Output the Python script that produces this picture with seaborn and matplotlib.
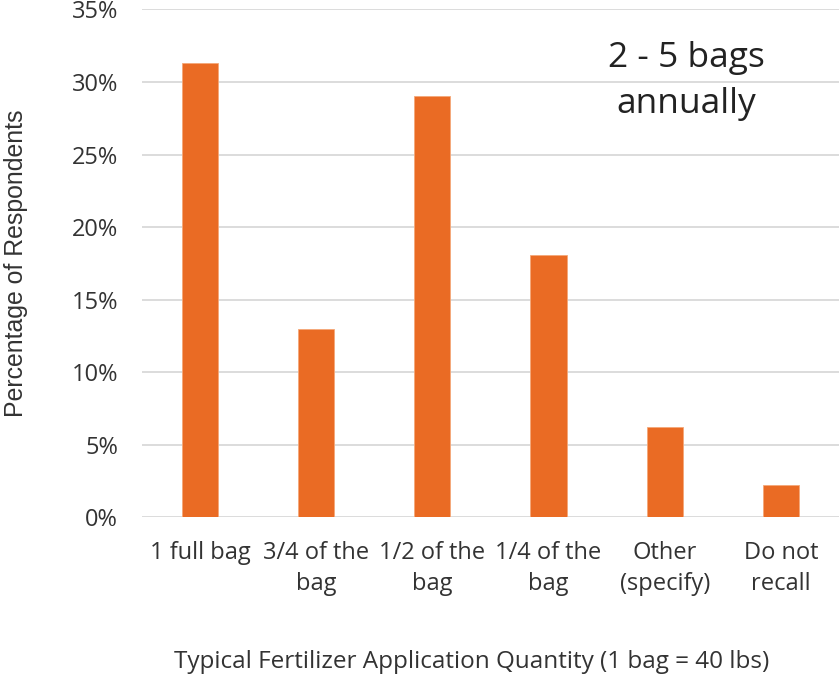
import pandas as pd
import matplotlib.pyplot as plt
import seaborn as sns
from matplotlib.ticker import PercentFormatter

categories = ['1 full bag', '3/4 of the\nbag', '1/2 of the\nbag', '1/4 of the\nbag',
              'Other\n(specify)', 'Do not\nrecall']
percent = [31.3, 13.0, 29.0, 18.1, 6.2, 2.2]

df = pd.DataFrame({'cat': categories, 'pct': percent})

sns.set_theme(style='white')
plt.rcParams['font.family'] = ['Open Sans', 'DejaVu Sans']

fig = plt.figure(figsize=(8.39, 6.74), dpi=100)
ax = fig.add_axes([0.169, 0.2325, 0.831, 0.7535])

sns.barplot(data=df, x='cat', y='pct', color='#EA6B24', saturation=1, width=0.31,
            edgecolor='#F5A878', linewidth=0.6, ax=ax)

ax.set_ylim(0, 35)
ax.set_yticks(range(0, 36, 5))
ax.yaxis.set_major_formatter(PercentFormatter(decimals=0))
ax.grid(axis='y', color='#D9D9D9', linewidth=1.3)
ax.set_axisbelow(True)
sns.despine(ax=ax, left=True, bottom=True, top=True, right=True)
ax.tick_params(axis='both', length=0, labelsize=17, colors='#333333')
ax.tick_params(axis='y', pad=17)
ax.tick_params(axis='x', pad=17)
for lbl in ax.get_xticklabels():
    lbl.set_linespacing(1.4)

ax.set_xlabel('Typical Fertilizer Application Quantity (1 bag = 40 lbs)',
              fontsize=17.5, color='#333333')
ax.xaxis.set_label_coords(0.4735, -0.261)
ax.set_ylabel('Percentage of Respondents', fontsize=17.9, color='#333333',
              family='Liberation Sans')
ax.yaxis.set_label_coords(-0.1636, 0.5)

ax.text(0.781, 0.86, '2 - 5 bags\nannually', transform=ax.transAxes,
        ha='center', va='center', fontsize=25.5, color='#222222', linespacing=1.46)

fig.savefig('out.png', dpi=100)
